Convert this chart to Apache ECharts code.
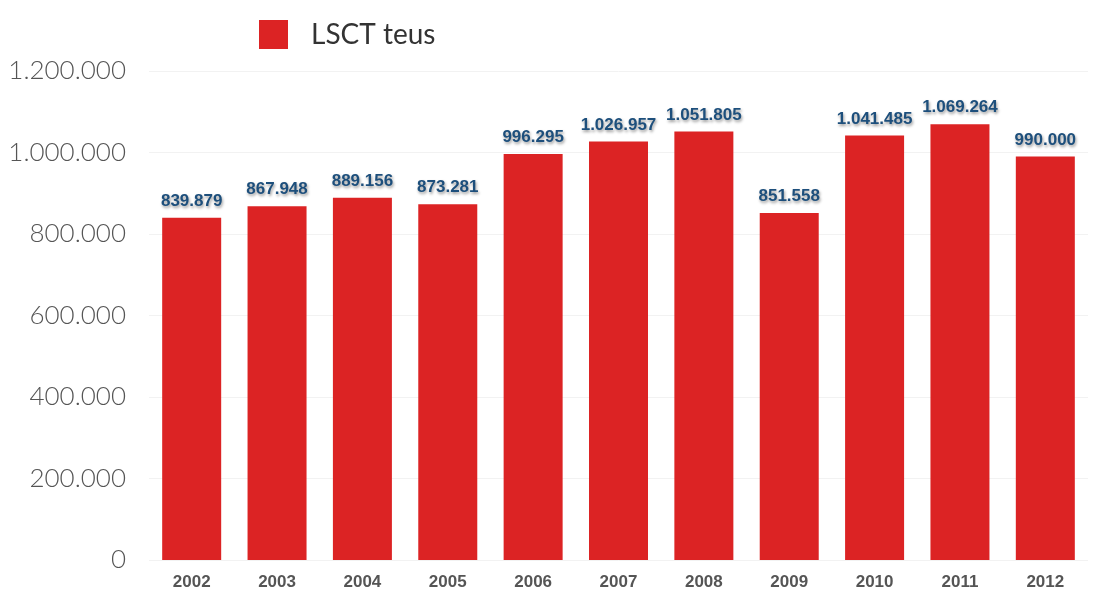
<!DOCTYPE html>
<html><head><meta charset="utf-8">
<script src="https://cdn.jsdelivr.net/npm/echarts@6/dist/echarts.min.js"></script>
<style>html,body{margin:0;padding:0;background:#fff}#c{width:1117px;height:591px}</style>
</head><body><div id="c"></div>
<script>
const categories = ['2002','2003','2004','2005','2006','2007','2008','2009','2010','2011','2012'];
const teus = [839879, 867948, 889156, 873281, 996295, 1026957, 1051805, 851558, 1041485, 1069264, 990000];
const seriesName = 'LSCT teus';

function fmt(v){ return String(v).replace(/\B(?=(\d{3})+(?!\d))/g, '.'); }

const chart = echarts.init(document.getElementById('c'));
chart.setOption({
  animation: false,
  backgroundColor: '#fff',
  legend: {
    data: [seriesName], left: 254, top: 15, itemWidth: 29, itemHeight: 29, itemGap: 20,
    icon: 'rect',
    textStyle: { fontFamily: 'Lato', fontSize: 28, color: '#333', padding: [0, 0, 0, 18] }
  },
  grid: { left: 149, right: 29, top: 71, bottom: 31, containLabel: false },
  xAxis: {
    type: 'category', data: categories,
    axisLine: { show: false }, axisTick: { show: false },
    axisLabel: { fontFamily: 'Arial', fontWeight: 'bold', fontSize: 17, color: '#555', margin: 14 }
  },
  yAxis: {
    type: 'value', min: 0, max: 1200000, interval: 200000,
    axisLine: { show: false }, axisTick: { show: false },
    splitLine: { lineStyle: { color: '#f2f2f2', width: 1 } },
    axisLabel: { fontFamily: 'Lato', fontWeight: 300, fontSize: 26, color: '#555', margin: 23, formatter: v => fmt(v) }
  },
  series: [{
    name: seriesName, type: 'bar', data: teus, barWidth: 59,
    itemStyle: { color: '#dc2324' },
    label: {
      show: true, position: 'top', distance: 8,
      fontFamily: 'Arial', fontWeight: 'bold', fontSize: 17, color: '#1d4f7c',
      textShadowColor: 'rgba(0,0,0,0.4)', textShadowBlur: 3, textShadowOffsetX: 1, textShadowOffsetY: 2,
      formatter: p => fmt(p.value)
    }
  }]
});
</script></body></html>
